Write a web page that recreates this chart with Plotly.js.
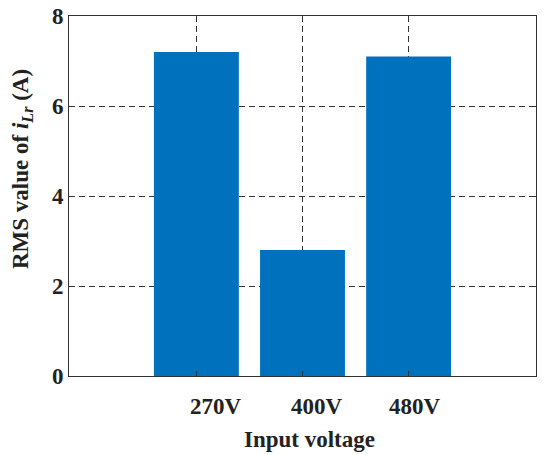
<!DOCTYPE html>
<html>
<head>
<meta charset="utf-8">
<script src="https://cdn.plot.ly/plotly-3.0.1.min.js"></script>
<style>
  body { margin: 0; background: #fff; }
  #myDiv { width: 550px; height: 455px; }
</style>
</head>
<body>
<div id="myDiv"></div>
<script>
var categories = ["270V", "400V", "480V"];
var rmsValues = [7.2, 2.8, 7.1];
var yTicks = [0, 2, 4, 6, 8];

// bar positions 1..n, labels sit a little right of the ticks in the original
var xPos = categories.map(function (c, i) { return i + 1; });
var labelNudge = [0.185, 0.136, 0.063];

var fam = "Liberation Serif, Times New Roman, serif";
var ink = "#222";
var boldFont = { family: fam, size: 23, color: ink, weight: "bold" };

var bars = {
  x: xPos,
  y: rmsValues,
  type: "bar",
  width: 0.8,
  marker: { color: "rgb(0,114,189)" },
  hoverinfo: "skip",
};

// pixel rows/cols of the paper for the annotation texts
function paperY(px) { return 1 - (px - 16) / (455 - 16 - 79); }
function paperX(px) { return (px - 69) / (550 - 69 - 14); }

var annotations = categories.map(function (c, i) {
  return {
    text: c,
    x: xPos[i] + labelNudge[i],
    xref: "x",
    xanchor: "center",
    y: paperY(407),
    yref: "paper",
    yanchor: "middle",
    showarrow: false,
    font: boldFont,
  };
});
annotations.push({
  text: "Input voltage",
  x: paperX(309),
  xref: "paper",
  xanchor: "center",
  y: paperY(439),
  yref: "paper",
  yanchor: "middle",
  showarrow: false,
  font: boldFont,
});
annotations.push({
  text: "RMS value of <i>i</i><sub><i>Lr</i></sub> (A)",
  x: paperX(22),
  xref: "paper",
  xanchor: "center",
  y: paperY(169),
  yref: "paper",
  yanchor: "middle",
  textangle: -90,
  showarrow: false,
  font: boldFont,
});

var layout = {
  width: 550,
  height: 455,
  margin: { l: 69, r: 14, t: 16, b: 79 },
  paper_bgcolor: "#fff",
  plot_bgcolor: "#fff",
  showlegend: false,
  font: boldFont,
  xaxis: {
    range: [-0.2, 4.2],
    tickvals: xPos,
    showticklabels: false,
    ticks: "inside",
    ticklen: 5,
    tickcolor: "#333",
    showgrid: true,
    gridcolor: "#333",
    gridwidth: 1,
    griddash: "6px,4px",
    showline: true,
    linecolor: "#333",
    linewidth: 1,
    mirror: "ticks",
    zeroline: false,
    fixedrange: true,
  },
  yaxis: {
    range: [0, 8],
    tickvals: yTicks,
    ticks: "inside",
    ticklen: 5,
    tickcolor: "#333",
    tickfont: boldFont,
    ticklabelstandoff: 0,
    showgrid: true,
    gridcolor: "#333",
    gridwidth: 1,
    griddash: "6px,4px",
    showline: true,
    linecolor: "#333",
    linewidth: 1,
    mirror: "ticks",
    zeroline: false,
    automargin: false,
    fixedrange: true,
  },
  annotations: annotations,
};

var config = { displayModeBar: false, staticPlot: true };

Plotly.newPlot("myDiv", [bars], layout, config);
</script>
</body>
</html>
